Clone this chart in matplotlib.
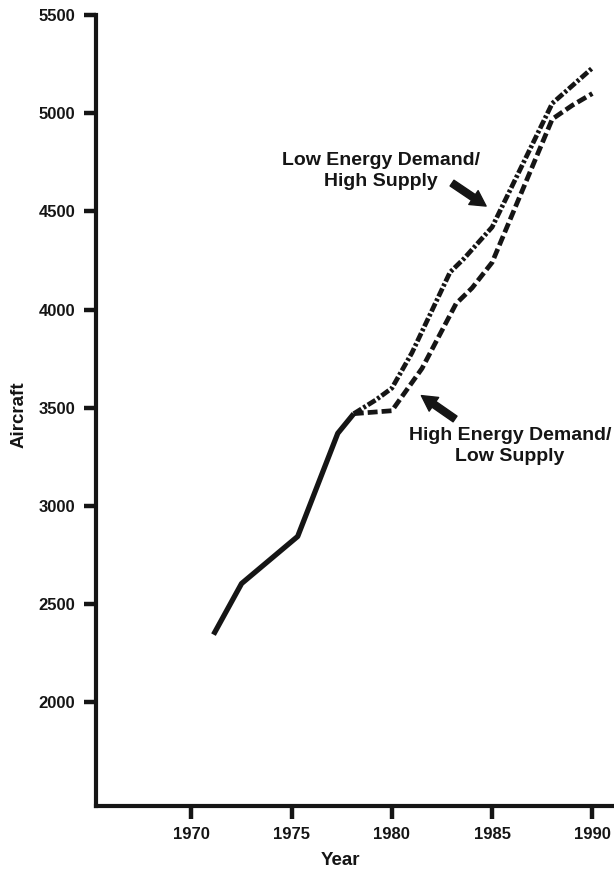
import numpy as np
import matplotlib
matplotlib.use("Agg")
import matplotlib.pyplot as plt

# Парк самолётов: фактические данные и два сценария прогноза
years_hist = [1971.1, 1972.5, 1975.3, 1977.3, 1978.1]
fleet_hist = [2345, 2605, 2845, 3370, 3470]

years_low = [1978.1, 1979.2, 1980.0, 1981.0, 1982.9, 1983.6, 1985.0, 1988.0, 1989.0, 1990.0]
fleet_low = [3470, 3540, 3600, 3780, 4190, 4260, 4420, 5050, 5140, 5230]   # Low Energy Demand / High Supply

years_high = [1978.1, 1980.0, 1981.5, 1983.2, 1984.0, 1985.0, 1988.0, 1989.0, 1990.0]
fleet_high = [3470, 3485, 3700, 4030, 4110, 4240, 4970, 5040, 5100]      # High Energy Demand / Low Supply

x_ticks = [1970, 1975, 1980, 1985, 1990]
y_ticks = [2000, 2500, 3000, 3500, 4000, 4500, 5000, 5500]

ink = '#151515'
plt.rcParams['font.family'] = ['Liberation Sans', 'DejaVu Sans']
plt.rcParams['font.weight'] = 'bold'

fig = plt.figure(figsize=(6.14, 8.71), dpi=100)
ax = fig.add_axes([0.1564, 0.075, 0.8436, 0.9078])

# Кривые
ax.plot(years_hist, fleet_hist, color=ink, lw=3.8, solid_capstyle='butt', solid_joinstyle='round')
ax.plot(years_low, fleet_low, color=ink, lw=3.4, linestyle=(0, (1.9, 0.5, 0.6, 0.5)))
ax.plot(years_high, fleet_high, color=ink, lw=3.4, linestyle=(0, (2.1, 0.85)))

# Подписи сценариев со стрелками
arrow = dict(arrowstyle='simple,head_length=1.1,head_width=1.2,tail_width=0.5',
             color=ink, shrinkA=0, shrinkB=0)
ax.text(1979.45, 4706, 'Low Energy Demand/\nHigh Supply', ha='center', va='center',
        fontsize=14, fontweight='bold', color=ink, linespacing=1.35)
ax.annotate('', xy=(1984.7, 4527), xytext=(1983.0, 4644), arrowprops=arrow)
ax.text(1985.9, 3305, 'High Energy Demand/\nLow Supply', ha='center', va='center',
        fontsize=14, fontweight='bold', color=ink, linespacing=1.35)
ax.annotate('', xy=(1981.47, 3562), xytext=(1983.15, 3443), arrowprops=arrow)

# Оси
ax.set_xlim(1965.24, 1991.08)
ax.set_ylim(1474, 5500)
ax.set_xticks(x_ticks)
ax.set_yticks(y_ticks)
ax.tick_params(axis='both', direction='out', length=9, width=3.2, color=ink,
               labelsize=12, labelcolor=ink, pad=6)
for side in ['top', 'right']:
    ax.spines[side].set_visible(False)
for side in ['left', 'bottom']:
    ax.spines[side].set_linewidth(3)
    ax.spines[side].set_color(ink)
    ax.spines[side].set_capstyle('projecting')

ax.set_xlabel('Year', fontsize=13.5, fontweight='bold', color=ink)
ax.set_ylabel('Aircraft', fontsize=13.5, fontweight='bold', color=ink)
ax.xaxis.set_label_coords(0.471, -0.058)
ax.yaxis.set_label_coords(-0.133, 0.495)

fig.savefig('out.png', dpi=100, facecolor='white')
